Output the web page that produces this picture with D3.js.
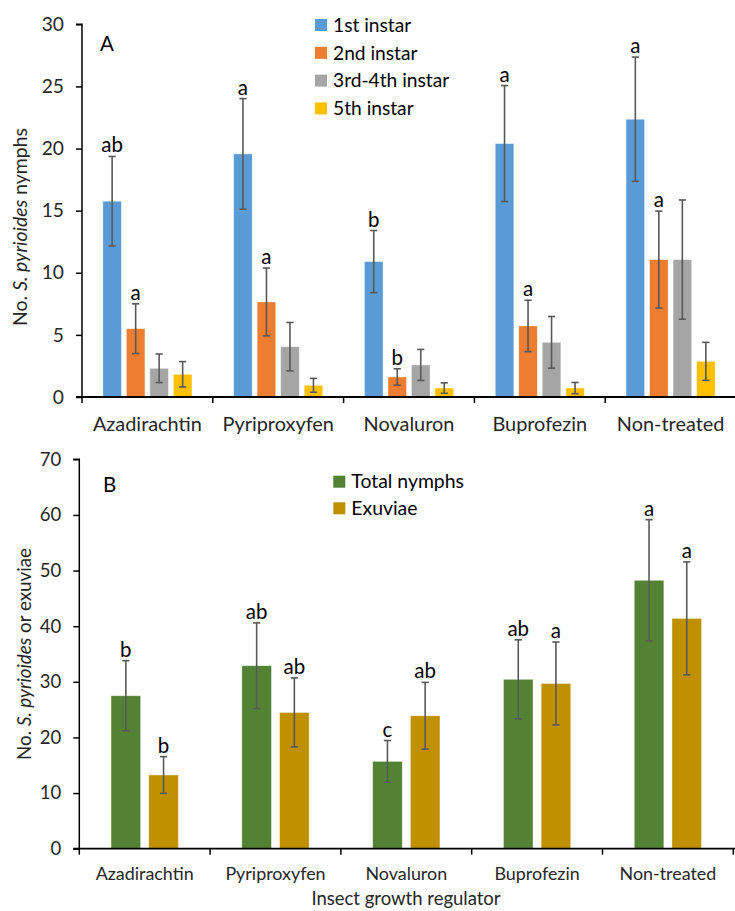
<!DOCTYPE html>
<html>
<head>
<meta charset="utf-8">
<script src="https://cdn.jsdelivr.net/npm/d3@7"></script>
<style>
  body { margin: 0; background: #fff; }
  svg { display: block; font-family: Lato, "Open Sans", sans-serif; }
</style>
</head>
<body>
<svg id="chart" width="735" height="911"></svg>
<script>
// ---------- DATA ----------
const categories = ["Azadirachtin", "Pyriproxyfen", "Novaluron", "Buprofezin", "Non-treated"];

// Panel A
const instarSeries = ["1st instar", "2nd instar", "3rd-4th instar", "5th instar"];
const instar1 = [15.76, 19.57, 10.9, 20.4, 22.36];
const instar1Err = [3.6, 4.45, 2.5, 4.67, 5.0];
const instar2 = [5.5, 7.65, 1.61, 5.72, 11.06];
const instar2Err = [2.0, 2.73, 0.66, 2.07, 3.9];
const instar34 = [2.31, 4.05, 2.58, 4.4, 11.06];
const instar34Err = [1.15, 1.95, 1.25, 2.08, 4.8];
const instar5 = [1.83, 0.94, 0.72, 0.72, 2.87];
const instar5Err = [1.02, 0.56, 0.42, 0.45, 1.53];
const instar1Letters = ["ab", "a", "b", "a", "a"];
const instar2Letters = ["a", "a", "b", "a", "a"];
const yTicksA = [0, 5, 10, 15, 20, 25, 30];

// Panel B
const totalSeries = ["Total nymphs", "Exuviae"];
const totalNymphs = [27.5, 32.9, 15.7, 30.45, 48.25];
const totalNymphsErr = [6.3, 7.7, 3.75, 7.1, 10.9];
const exuviae = [13.25, 24.5, 23.9, 29.7, 41.4];
const exuviaeErr = [3.3, 6.2, 6.0, 7.45, 10.15];
const totalLetters = ["b", "ab", "c", "ab", "a"];
const exuviaeLetters = ["b", "ab", "ab", "a", "a"];
const yTicksB = [0, 10, 20, 30, 40, 50, 60, 70];

const colorsA = ["#5B9BD5", "#ED7D31", "#A5A5A5", "#FFC000"];
const colorsB = ["#548235", "#BF9000"];

// ---------- DRAW ----------
const svg = d3.select("#chart");
const errColor = "#595959";

function panel(cfg) {
  const g = svg.append("g");
  const x = d3.scaleBand().domain(categories).range([cfg.x0, cfg.x1]).paddingInner(0).paddingOuter(0);
  const y = d3.scaleLinear().domain([0, cfg.yMax]).range([cfg.yBottom, cfg.yTop]);
  const inner = d3.scaleBand().domain(cfg.series).range([0, x.bandwidth()])
    .paddingInner(cfg.pIn).paddingOuter(cfg.pOut);

  // bars
  cfg.series.forEach((s, si) => {
    const vals = cfg.values[si], errs = cfg.errors[si];
    const sg = g.append("g");
    sg.selectAll("rect").data(categories).join("rect")
      .attr("x", c => x(c) + inner(s))
      .attr("y", (c, i) => y(vals[i]))
      .attr("width", inner.bandwidth())
      .attr("height", (c, i) => y(0) - y(vals[i]))
      .attr("fill", cfg.colors[si])
      .attr("stroke", "#ffffff").attr("stroke-opacity", 0.5).attr("stroke-width", 0.8);
    // error bars
    const eg = sg.append("g").attr("stroke", errColor).attr("stroke-width", 1.6);
    categories.forEach((c, i) => {
      const cx = x(c) + inner(s) + inner.bandwidth() / 2;
      const t = y(vals[i] + errs[i]), b = y(vals[i] - errs[i]);
      eg.append("line").attr("x1", cx).attr("x2", cx).attr("y1", t).attr("y2", b);
      eg.append("line").attr("x1", cx - 3.6).attr("x2", cx + 3.6).attr("y1", t).attr("y2", t);
      eg.append("line").attr("x1", cx - 3.6).attr("x2", cx + 3.6).attr("y1", b).attr("y2", b);
      const letters = cfg.letters[si];
      if (letters) {
        g.append("text").attr("x", cx).attr("y", t - 4)
          .attr("text-anchor", "middle").attr("font-size", cfg.letterSize)
          .attr("fill", "#000").text(letters[i]);
      }
    });
  });

  // y axis
  const yAxis = d3.axisLeft(y).tickValues(cfg.yTicks).tickSize(6).tickPadding(12).tickFormat(d3.format("d"));
  const ya = g.append("g").attr("transform", `translate(${cfg.x0},0)`).call(yAxis);
  ya.select(".domain").attr("stroke", "#000").attr("stroke-width", 1.5).attr("d", `M-6,${cfg.yTop}H0V${cfg.yBottom}`);
  ya.selectAll(".tick line").attr("stroke", "#000").attr("stroke-width", 1.5);
  ya.selectAll(".tick text").attr("font-size", cfg.tickSize).attr("fill", "#262626").attr("font-family", "Lato");

  // x axis
  const xa = g.append("g").attr("transform", `translate(0,${cfg.yBottom})`);
  xa.append("line").attr("x1", cfg.x0 - 6).attr("x2", cfg.x1 + 2).attr("y1", 0).attr("y2", 0)
    .attr("stroke", "#000").attr("stroke-width", 1.8);
  const boundaries = categories.map(c => x(c)).concat([x(categories[categories.length - 1]) + x.bandwidth()]);
  xa.selectAll("line.sep").data(boundaries).join("line").attr("class", "sep")
    .attr("x1", d => d).attr("x2", d => d).attr("y1", 0).attr("y2", 6)
    .attr("stroke", "#000").attr("stroke-width", 1.5);
  xa.selectAll("text").data(categories).join("text")
    .attr("x", c => x(c) + x.bandwidth() / 2).attr("y", cfg.catY - cfg.yBottom)
    .attr("text-anchor", "middle").attr("font-size", cfg.catSize).attr("fill", "#262626")
    .text(c => c);

  // panel label
  g.append("text").attr("x", cfg.labelX).attr("y", cfg.labelY).attr("font-size", cfg.panelLabelSize)
    .attr("fill", "#000").text(cfg.label);

  // legend
  cfg.series.forEach((s, si) => {
    const ly = cfg.legY + si * cfg.legStep;
    g.append("rect").attr("x", cfg.legX).attr("y", ly - 6).attr("width", 12).attr("height", 12)
      .attr("fill", cfg.colors[si]);
    g.append("text").attr("x", cfg.legX + 18).attr("y", ly).attr("dy", "0.35em")
      .attr("font-size", cfg.legSize).attr("fill", "#000").text(s);
  });

  // y title
  const yt = g.append("text")
    .attr("transform", `translate(${cfg.yTitleX},${cfg.yTitleY}) rotate(-90)`)
    .attr("text-anchor", "middle").attr("font-size", cfg.yTitleSize).attr("fill", "#262626");
  yt.append("tspan").text("No. ");
  yt.append("tspan").attr("font-style", "italic").text("S. pyrioides");
  yt.append("tspan").text(cfg.yTitleRest);
}

panel({
  x0: 82, x1: 736, yTop: 24.3, yBottom: 397, yMax: 30, yTicks: yTicksA,
  series: instarSeries, colors: colorsA,
  values: [instar1, instar2, instar34, instar5],
  errors: [instar1Err, instar2Err, instar34Err, instar5Err],
  letters: [instar1Letters, instar2Letters, null, null],
  pIn: 0.2085, pOut: 0.887,
  tickSize: 19.2, catSize: 19.9, catY: 431, letterSize: 20.5,
  label: "A", labelX: 100, labelY: 51, panelLabelSize: 20.5,
  legX: 315, legY: 25, legStep: 27.8, legSize: 19.2,
  yTitleX: 26.5, yTitleY: 227, yTitleSize: 19.4, yTitleRest: " nymphs"
});

panel({
  x0: 79.3, x1: 733.3, yTop: 459.3, yBottom: 848.7, yMax: 70, yTicks: yTicksB,
  series: totalSeries, colors: colorsB,
  values: [totalNymphs, exuviae],
  errors: [totalNymphsErr, exuviaeErr],
  letters: [totalLetters, exuviaeLetters],
  pIn: 0.215, pOut: 0.842,
  tickSize: 18.5, catSize: 17.9, catY: 880.5, letterSize: 20.5,
  label: "B", labelX: 103, labelY: 492, panelLabelSize: 20.5,
  legX: 333.3, legY: 481.7, legStep: 26.6, legSize: 19.4,
  yTitleX: 31, yTitleY: 654, yTitleSize: 18.8, yTitleRest: " or exuviae"
});

// x-axis title
svg.append("text").attr("x", 406).attr("y", 905).attr("text-anchor", "middle")
  .attr("font-size", 18.5).attr("fill", "#262626").text("Insect growth regulator");
</script>
</body>
</html>
